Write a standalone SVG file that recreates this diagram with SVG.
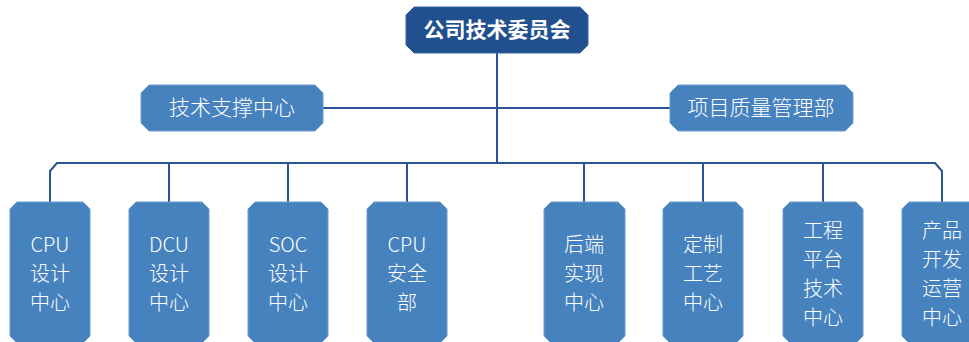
<svg xmlns="http://www.w3.org/2000/svg" width="969" height="342" viewBox="0 0 969 342">
<style>
.top{fill:#21508f;stroke:#3a66a3;stroke-width:1}
.box{fill:#4682bd;stroke:#6b9cd0;stroke-width:1}
.conn{fill:none;stroke:#2a5495;stroke-width:2}
text{font-family:"Noto Sans CJK SC","Noto Sans",sans-serif;fill:#ffffff;text-anchor:middle}
.t1{font-size:21px;font-weight:bold}
.t2{font-size:21px;font-weight:300}
.t3{font-size:20px;font-weight:300}
</style>
<rect width="969" height="342" fill="#ffffff"/>
<g id="connectors">
<path class="conn" d="M497 53 V163"/>
<path class="conn" d="M323 108 H670"/>
<path class="conn" d="M50 202 V171 L57 163 H935 L942 171 V202"/>
<path class="conn" d="M169 163 V202 M288 163 V202 M407 163 V202 M584 163 V202 M703 163 V202 M823 163 V202"/>
</g>
<g id="n-top">
<polygon class="top" points="414,7 580,7 588,15 588,45 580,53 414,53 406,45 406,15"/>
<text class="t1" x="497" y="37">公司技术委员会</text>
</g>
<g id="n-support">
<polygon class="box" points="149,85 315,85 323,93 323,123 315,131 149,131 141,123 141,93"/>
<text class="t2" x="232" y="115">技术支撑中心</text>
</g>
<g id="n-quality">
<polygon class="box" points="678,85 845,85 853,93 853,123 845,131 678,131 670,123 670,93"/>
<text class="t2" x="761" y="115">项目质量管理部</text>
</g>
<g id="n-cpu">
<polygon class="box" points="17,202 83,202 90,209 90,336 83,343 17,343 10,336 10,209"/>
<text class="t3" x="50" y="252">CPU</text><text class="t3" x="50" y="281">设计</text><text class="t3" x="50" y="310">中心</text>
</g>
<g id="n-dcu">
<polygon class="box" points="136,202 202,202 209,209 209,336 202,343 136,343 129,336 129,209"/>
<text class="t3" x="169" y="252">DCU</text><text class="t3" x="169" y="281">设计</text><text class="t3" x="169" y="310">中心</text>
</g>
<g id="n-soc">
<polygon class="box" points="255,202 321,202 328,209 328,336 321,343 255,343 248,336 248,209"/>
<text class="t3" x="288" y="252">SOC</text><text class="t3" x="288" y="281">设计</text><text class="t3" x="288" y="310">中心</text>
</g>
<g id="n-cpusec">
<polygon class="box" points="374,202 440,202 447,209 447,336 440,343 374,343 367,336 367,209"/>
<text class="t3" x="407" y="252">CPU</text><text class="t3" x="407" y="281">安全</text><text class="t3" x="407" y="310">部</text>
</g>
<g id="n-backend">
<polygon class="box" points="551,202 618,202 625,209 625,336 618,343 551,343 544,336 544,209"/>
<text class="t3" x="584" y="252">后端</text><text class="t3" x="584" y="281">实现</text><text class="t3" x="584" y="310">中心</text>
</g>
<g id="n-custom">
<polygon class="box" points="670,202 736,202 743,209 743,336 736,343 670,343 663,336 663,209"/>
<text class="t3" x="703" y="252">定制</text><text class="t3" x="703" y="281">工艺</text><text class="t3" x="703" y="310">中心</text>
</g>
<g id="n-platform">
<polygon class="box" points="790,202 856,202 863,209 863,336 856,343 790,343 783,336 783,209"/>
<text class="t3" x="823" y="238">工程</text><text class="t3" x="823" y="267">平台</text><text class="t3" x="823" y="296">技术</text><text class="t3" x="823" y="325">中心</text>
</g>
<g id="n-product">
<polygon class="box" points="909,202 975,202 982,209 982,336 975,343 909,343 902,336 902,209"/>
<text class="t3" x="942" y="238">产品</text><text class="t3" x="942" y="267">开发</text><text class="t3" x="942" y="296">运营</text><text class="t3" x="942" y="325">中心</text>
</g>
</svg>
